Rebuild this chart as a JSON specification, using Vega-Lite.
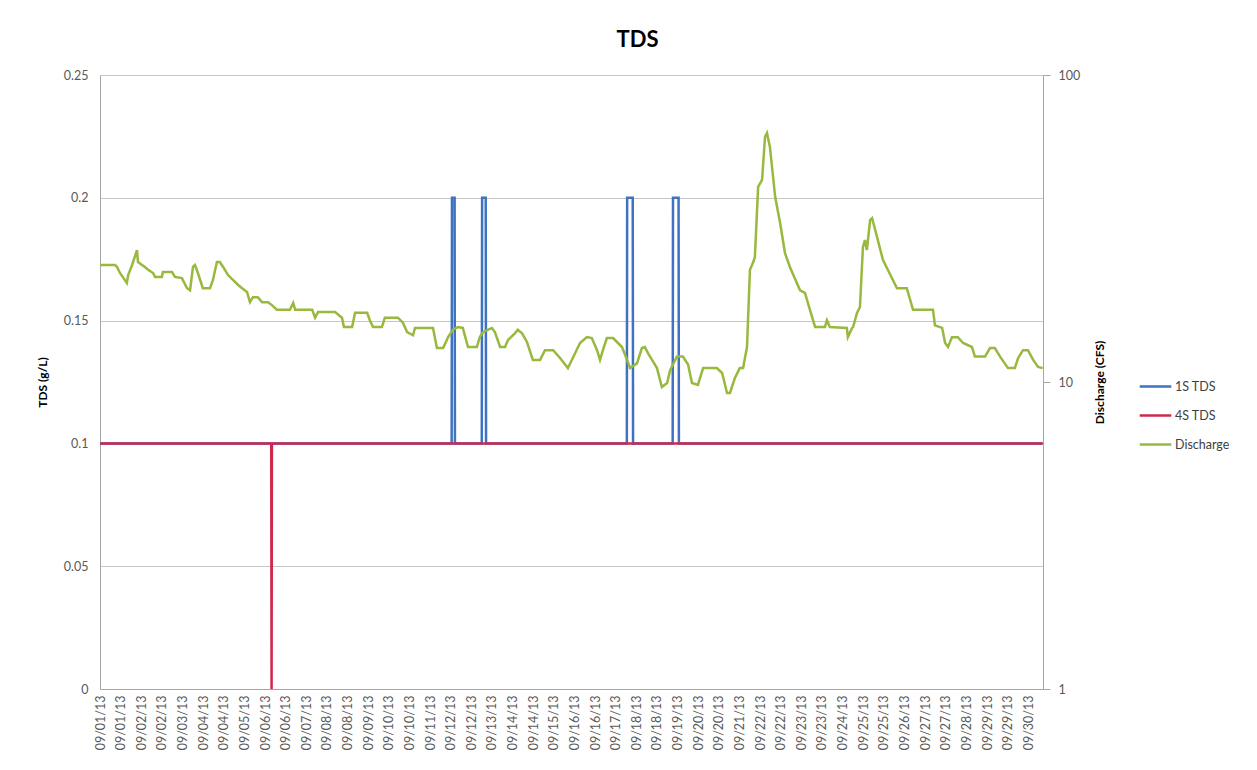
{
  "$schema": "https://vega.github.io/schema/vega-lite/v6.json",
  "width": 943,
  "height": 614,
  "autosize": {"type": "none"},
  "padding": {"left": 100, "top": 75, "right": 214, "bottom": 81},
  "background": "white",
  "title": {"text": "TDS", "fontSize": 22, "font": "Lato", "fontWeight": "bold", "color": "#000000", "anchor": "middle", "dx": 66, "offset": 0, "baseline": "alphabetic"},
  "config": {
    "view": {"stroke": null},
    "font": "Lato",
    "axis": {"labelFont": "Lato", "titleFont": "Lato", "labelColor": "#595959", "titleColor": "#000000", "domainColor": "#A6A6A6", "tickColor": "#A6A6A6", "gridColor": "#C6C6C6", "labelFontSize": 12.5},
    "axisX": {"labelOverlap": false}
  },
  "datasets": {
    "tds": [
      {"time": "2013-09-01T00:00", "series": "1S TDS", "tds": 0.1},
      {"time": "2013-09-12T04:30", "series": "1S TDS", "tds": 0.1},
      {"time": "2013-09-12T04:45", "series": "1S TDS", "tds": 0.2},
      {"time": "2013-09-12T06:45", "series": "1S TDS", "tds": 0.2},
      {"time": "2013-09-12T07:00", "series": "1S TDS", "tds": 0.1},
      {"time": "2013-09-13T03:30", "series": "1S TDS", "tds": 0.1},
      {"time": "2013-09-13T03:45", "series": "1S TDS", "tds": 0.2},
      {"time": "2013-09-13T06:30", "series": "1S TDS", "tds": 0.2},
      {"time": "2013-09-13T06:45", "series": "1S TDS", "tds": 0.1},
      {"time": "2013-09-17T18:15", "series": "1S TDS", "tds": 0.1},
      {"time": "2013-09-17T18:30", "series": "1S TDS", "tds": 0.2},
      {"time": "2013-09-17T22:45", "series": "1S TDS", "tds": 0.2},
      {"time": "2013-09-17T23:00", "series": "1S TDS", "tds": 0.1},
      {"time": "2013-09-19T05:15", "series": "1S TDS", "tds": 0.1},
      {"time": "2013-09-19T05:30", "series": "1S TDS", "tds": 0.2},
      {"time": "2013-09-19T09:45", "series": "1S TDS", "tds": 0.2},
      {"time": "2013-09-19T10:00", "series": "1S TDS", "tds": 0.1},
      {"time": "2013-09-30T23:45", "series": "1S TDS", "tds": 0.1},
      {"time": "2013-09-01T00:00", "series": "4S TDS", "tds": 0.1},
      {"time": "2013-09-06T10:45", "series": "4S TDS", "tds": 0.1},
      {"time": "2013-09-06T11:00", "series": "4S TDS", "tds": 0},
      {"time": "2013-09-06T11:15", "series": "4S TDS", "tds": 0.1},
      {"time": "2013-09-30T23:45", "series": "4S TDS", "tds": 0.1}
    ],
    "flow": [
      {"time": "2013-09-01T00:00", "series": "Discharge", "q": 24.05},
      {"time": "2013-09-01T11:30", "series": "Discharge", "q": 24.05},
      {"time": "2013-09-01T13:00", "series": "Discharge", "q": 23.7},
      {"time": "2013-09-01T15:15", "series": "Discharge", "q": 22.65},
      {"time": "2013-09-01T20:30", "series": "Discharge", "q": 21.0},
      {"time": "2013-09-01T21:30", "series": "Discharge", "q": 22.3},
      {"time": "2013-09-02T00:30", "series": "Discharge", "q": 24.05},
      {"time": "2013-09-02T04:15", "series": "Discharge", "q": 26.9},
      {"time": "2013-09-02T05:00", "series": "Discharge", "q": 24.6},
      {"time": "2013-09-02T10:15", "series": "Discharge", "q": 23.7},
      {"time": "2013-09-02T12:45", "series": "Discharge", "q": 23.2},
      {"time": "2013-09-02T16:30", "series": "Discharge", "q": 22.65},
      {"time": "2013-09-02T18:00", "series": "Discharge", "q": 22.0},
      {"time": "2013-09-02T23:15", "series": "Discharge", "q": 22.0},
      {"time": "2013-09-03T00:00", "series": "Discharge", "q": 22.8},
      {"time": "2013-09-03T07:00", "series": "Discharge", "q": 22.8},
      {"time": "2013-09-03T09:15", "series": "Discharge", "q": 22.0},
      {"time": "2013-09-03T14:30", "series": "Discharge", "q": 21.8},
      {"time": "2013-09-03T18:30", "series": "Discharge", "q": 20.2},
      {"time": "2013-09-03T20:45", "series": "Discharge", "q": 19.9},
      {"time": "2013-09-03T23:00", "series": "Discharge", "q": 23.7},
      {"time": "2013-09-04T00:30", "series": "Discharge", "q": 24.05},
      {"time": "2013-09-04T02:45", "series": "Discharge", "q": 22.65},
      {"time": "2013-09-04T06:30", "series": "Discharge", "q": 20.2},
      {"time": "2013-09-04T12:00", "series": "Discharge", "q": 20.2},
      {"time": "2013-09-04T14:15", "series": "Discharge", "q": 21.5},
      {"time": "2013-09-04T17:15", "series": "Discharge", "q": 24.6},
      {"time": "2013-09-04T19:30", "series": "Discharge", "q": 24.6},
      {"time": "2013-09-04T22:00", "series": "Discharge", "q": 23.7},
      {"time": "2013-09-05T01:45", "series": "Discharge", "q": 22.3},
      {"time": "2013-09-05T05:30", "series": "Discharge", "q": 21.5},
      {"time": "2013-09-05T09:30", "series": "Discharge", "q": 20.7},
      {"time": "2013-09-05T12:30", "series": "Discharge", "q": 20.2},
      {"time": "2013-09-05T16:15", "series": "Discharge", "q": 19.65},
      {"time": "2013-09-05T18:30", "series": "Discharge", "q": 18.2},
      {"time": "2013-09-05T20:45", "series": "Discharge", "q": 18.9},
      {"time": "2013-09-06T00:30", "series": "Discharge", "q": 18.9},
      {"time": "2013-09-06T03:45", "series": "Discharge", "q": 18.2},
      {"time": "2013-09-06T08:15", "series": "Discharge", "q": 18.2},
      {"time": "2013-09-06T11:15", "series": "Discharge", "q": 17.8},
      {"time": "2013-09-06T15:00", "series": "Discharge", "q": 17.2},
      {"time": "2013-09-07T01:00", "series": "Discharge", "q": 17.2},
      {"time": "2013-09-07T03:30", "series": "Discharge", "q": 18.1},
      {"time": "2013-09-07T05:00", "series": "Discharge", "q": 17.2},
      {"time": "2013-09-07T18:00", "series": "Discharge", "q": 17.2},
      {"time": "2013-09-07T20:15", "series": "Discharge", "q": 16.2},
      {"time": "2013-09-07T22:30", "series": "Discharge", "q": 16.9},
      {"time": "2013-09-08T11:30", "series": "Discharge", "q": 16.9},
      {"time": "2013-09-08T16:45", "series": "Discharge", "q": 16.2},
      {"time": "2013-09-08T18:15", "series": "Discharge", "q": 15.1},
      {"time": "2013-09-09T00:30", "series": "Discharge", "q": 15.1},
      {"time": "2013-09-09T02:45", "series": "Discharge", "q": 16.8},
      {"time": "2013-09-09T12:00", "series": "Discharge", "q": 16.8},
      {"time": "2013-09-09T14:00", "series": "Discharge", "q": 15.9},
      {"time": "2013-09-09T16:30", "series": "Discharge", "q": 15.1},
      {"time": "2013-09-09T23:15", "series": "Discharge", "q": 15.1},
      {"time": "2013-09-10T01:30", "series": "Discharge", "q": 16.2},
      {"time": "2013-09-10T11:30", "series": "Discharge", "q": 16.2},
      {"time": "2013-09-10T15:15", "series": "Discharge", "q": 15.6},
      {"time": "2013-09-10T18:30", "series": "Discharge", "q": 14.55},
      {"time": "2013-09-10T23:00", "series": "Discharge", "q": 14.2},
      {"time": "2013-09-11T00:30", "series": "Discharge", "q": 15.0},
      {"time": "2013-09-11T14:15", "series": "Discharge", "q": 15.0},
      {"time": "2013-09-11T17:15", "series": "Discharge", "q": 12.9},
      {"time": "2013-09-11T22:00", "series": "Discharge", "q": 12.9},
      {"time": "2013-09-12T01:45", "series": "Discharge", "q": 14.0},
      {"time": "2013-09-12T05:30", "series": "Discharge", "q": 14.8},
      {"time": "2013-09-12T09:15", "series": "Discharge", "q": 15.1},
      {"time": "2013-09-12T13:00", "series": "Discharge", "q": 15.0},
      {"time": "2013-09-12T17:00", "series": "Discharge", "q": 13.0},
      {"time": "2013-09-12T23:45", "series": "Discharge", "q": 13.0},
      {"time": "2013-09-13T02:00", "series": "Discharge", "q": 14.0},
      {"time": "2013-09-13T04:30", "series": "Discharge", "q": 14.55},
      {"time": "2013-09-13T11:15", "series": "Discharge", "q": 15.0},
      {"time": "2013-09-13T13:30", "series": "Discharge", "q": 14.55},
      {"time": "2013-09-13T17:30", "series": "Discharge", "q": 13.0},
      {"time": "2013-09-13T21:15", "series": "Discharge", "q": 13.0},
      {"time": "2013-09-13T23:30", "series": "Discharge", "q": 13.7},
      {"time": "2013-09-14T04:45", "series": "Discharge", "q": 14.4},
      {"time": "2013-09-14T07:00", "series": "Discharge", "q": 14.8},
      {"time": "2013-09-14T10:15", "series": "Discharge", "q": 14.4},
      {"time": "2013-09-14T14:00", "series": "Discharge", "q": 13.5},
      {"time": "2013-09-14T18:30", "series": "Discharge", "q": 11.8},
      {"time": "2013-09-15T00:00", "series": "Discharge", "q": 11.8},
      {"time": "2013-09-15T03:45", "series": "Discharge", "q": 12.7},
      {"time": "2013-09-15T10:00", "series": "Discharge", "q": 12.7},
      {"time": "2013-09-15T15:15", "series": "Discharge", "q": 11.97},
      {"time": "2013-09-15T21:15", "series": "Discharge", "q": 11.1},
      {"time": "2013-09-16T01:00", "series": "Discharge", "q": 11.97},
      {"time": "2013-09-16T06:30", "series": "Discharge", "q": 13.4},
      {"time": "2013-09-16T11:45", "series": "Discharge", "q": 14.0},
      {"time": "2013-09-16T15:30", "series": "Discharge", "q": 13.9},
      {"time": "2013-09-16T19:30", "series": "Discharge", "q": 12.7},
      {"time": "2013-09-16T21:45", "series": "Discharge", "q": 11.8},
      {"time": "2013-09-17T00:00", "series": "Discharge", "q": 12.7},
      {"time": "2013-09-17T03:00", "series": "Discharge", "q": 13.9},
      {"time": "2013-09-17T07:45", "series": "Discharge", "q": 13.9},
      {"time": "2013-09-17T10:45", "series": "Discharge", "q": 13.5},
      {"time": "2013-09-17T14:30", "series": "Discharge", "q": 13.0},
      {"time": "2013-09-17T18:30", "series": "Discharge", "q": 11.8},
      {"time": "2013-09-17T20:45", "series": "Discharge", "q": 11.1},
      {"time": "2013-09-18T02:00", "series": "Discharge", "q": 11.5},
      {"time": "2013-09-18T05:45", "series": "Discharge", "q": 12.9},
      {"time": "2013-09-18T08:00", "series": "Discharge", "q": 13.0},
      {"time": "2013-09-18T10:30", "series": "Discharge", "q": 12.4},
      {"time": "2013-09-18T13:30", "series": "Discharge", "q": 11.8},
      {"time": "2013-09-18T17:15", "series": "Discharge", "q": 11.1},
      {"time": "2013-09-18T21:00", "series": "Discharge", "q": 9.63},
      {"time": "2013-09-19T01:00", "series": "Discharge", "q": 9.93},
      {"time": "2013-09-19T03:15", "series": "Discharge", "q": 10.9},
      {"time": "2013-09-19T05:30", "series": "Discharge", "q": 11.4},
      {"time": "2013-09-19T08:30", "series": "Discharge", "q": 12.1},
      {"time": "2013-09-19T13:00", "series": "Discharge", "q": 12.1},
      {"time": "2013-09-19T17:00", "series": "Discharge", "q": 11.4},
      {"time": "2013-09-19T20:00", "series": "Discharge", "q": 9.93},
      {"time": "2013-09-20T00:30", "series": "Discharge", "q": 9.78},
      {"time": "2013-09-20T04:30", "series": "Discharge", "q": 11.1},
      {"time": "2013-09-20T15:00", "series": "Discharge", "q": 11.1},
      {"time": "2013-09-20T19:00", "series": "Discharge", "q": 10.7},
      {"time": "2013-09-20T22:45", "series": "Discharge", "q": 9.21},
      {"time": "2013-09-21T01:00", "series": "Discharge", "q": 9.21},
      {"time": "2013-09-21T04:45", "series": "Discharge", "q": 10.3},
      {"time": "2013-09-21T08:30", "series": "Discharge", "q": 11.1},
      {"time": "2013-09-21T11:00", "series": "Discharge", "q": 11.1},
      {"time": "2013-09-21T14:00", "series": "Discharge", "q": 13.0},
      {"time": "2013-09-21T16:15", "series": "Discharge", "q": 23.2},
      {"time": "2013-09-21T18:30", "series": "Discharge", "q": 24.4},
      {"time": "2013-09-21T20:00", "series": "Discharge", "q": 25.5},
      {"time": "2013-09-21T22:30", "series": "Discharge", "q": 43.2},
      {"time": "2013-09-22T01:30", "series": "Discharge", "q": 45.5},
      {"time": "2013-09-22T03:45", "series": "Discharge", "q": 62.8},
      {"time": "2013-09-22T05:15", "series": "Discharge", "q": 64.7},
      {"time": "2013-09-22T07:30", "series": "Discharge", "q": 58.3},
      {"time": "2013-09-22T11:30", "series": "Discharge", "q": 40.1},
      {"time": "2013-09-22T15:15", "series": "Discharge", "q": 33.0},
      {"time": "2013-09-22T19:00", "series": "Discharge", "q": 26.3},
      {"time": "2013-09-22T22:45", "series": "Discharge", "q": 23.7},
      {"time": "2013-09-23T06:30", "series": "Discharge", "q": 19.9},
      {"time": "2013-09-23T10:15", "series": "Discharge", "q": 19.5},
      {"time": "2013-09-23T14:00", "series": "Discharge", "q": 17.2},
      {"time": "2013-09-23T18:00", "series": "Discharge", "q": 15.1},
      {"time": "2013-09-24T01:30", "series": "Discharge", "q": 15.1},
      {"time": "2013-09-24T03:00", "series": "Discharge", "q": 15.9},
      {"time": "2013-09-24T05:15", "series": "Discharge", "q": 15.1},
      {"time": "2013-09-24T18:15", "series": "Discharge", "q": 15.0},
      {"time": "2013-09-24T19:00", "series": "Discharge", "q": 14.0},
      {"time": "2013-09-24T22:15", "series": "Discharge", "q": 15.0},
      {"time": "2013-09-24T23:00", "series": "Discharge", "q": 15.1},
      {"time": "2013-09-25T02:00", "series": "Discharge", "q": 16.8},
      {"time": "2013-09-25T04:15", "series": "Discharge", "q": 17.55},
      {"time": "2013-09-25T06:30", "series": "Discharge", "q": 27.5},
      {"time": "2013-09-25T08:00", "series": "Discharge", "q": 29.0},
      {"time": "2013-09-25T09:30", "series": "Discharge", "q": 26.9},
      {"time": "2013-09-25T12:00", "series": "Discharge", "q": 33.7},
      {"time": "2013-09-25T13:30", "series": "Discharge", "q": 34.2},
      {"time": "2013-09-25T17:15", "series": "Discharge", "q": 29.7},
      {"time": "2013-09-25T21:45", "series": "Discharge", "q": 25.0},
      {"time": "2013-09-26T01:30", "series": "Discharge", "q": 23.2},
      {"time": "2013-09-26T08:30", "series": "Discharge", "q": 20.2},
      {"time": "2013-09-26T16:00", "series": "Discharge", "q": 20.2},
      {"time": "2013-09-26T20:45", "series": "Discharge", "q": 17.2},
      {"time": "2013-09-27T12:00", "series": "Discharge", "q": 17.2},
      {"time": "2013-09-27T13:30", "series": "Discharge", "q": 15.3},
      {"time": "2013-09-27T19:00", "series": "Discharge", "q": 15.0},
      {"time": "2013-09-27T21:15", "series": "Discharge", "q": 13.4},
      {"time": "2013-09-27T23:30", "series": "Discharge", "q": 13.0},
      {"time": "2013-09-28T02:30", "series": "Discharge", "q": 14.0},
      {"time": "2013-09-28T07:00", "series": "Discharge", "q": 14.0},
      {"time": "2013-09-28T11:00", "series": "Discharge", "q": 13.4},
      {"time": "2013-09-28T17:45", "series": "Discharge", "q": 13.0},
      {"time": "2013-09-28T20:00", "series": "Discharge", "q": 12.1},
      {"time": "2013-09-29T03:45", "series": "Discharge", "q": 12.1},
      {"time": "2013-09-29T07:30", "series": "Discharge", "q": 12.9},
      {"time": "2013-09-29T11:15", "series": "Discharge", "q": 12.9},
      {"time": "2013-09-29T15:15", "series": "Discharge", "q": 12.1},
      {"time": "2013-09-29T21:15", "series": "Discharge", "q": 11.1},
      {"time": "2013-09-30T02:30", "series": "Discharge", "q": 11.1},
      {"time": "2013-09-30T05:00", "series": "Discharge", "q": 11.97},
      {"time": "2013-09-30T08:45", "series": "Discharge", "q": 12.7},
      {"time": "2013-09-30T12:30", "series": "Discharge", "q": 12.7},
      {"time": "2013-09-30T16:30", "series": "Discharge", "q": 11.8},
      {"time": "2013-09-30T20:15", "series": "Discharge", "q": 11.2},
      {"time": "2013-09-30T23:45", "series": "Discharge", "q": 11.1}
    ]
  },
  "encoding": {
    "x": {
      "field": "time", "type": "temporal",
      "scale": {"domain": [{"year": 2013, "month": 9, "date": 1, "hours": 0}, {"year": 2013, "month": 10, "date": 1, "hours": 0}]},
      "axis": {
        "title": null, "format": "%m/%d/%y", "labelAngle": 270, "labelFontSize": 12.5, "ticks": false, "grid": false, "labelPadding": 6, "labelOverlap": false, "labelFlush": false, "labelSeparation": 0,
        "values": [
          {"year": 2013, "month": 9, "date": 1, "hours": 0, "minutes": 0},
          {"year": 2013, "month": 9, "date": 1, "hours": 15, "minutes": 45},
          {"year": 2013, "month": 9, "date": 2, "hours": 7, "minutes": 30},
          {"year": 2013, "month": 9, "date": 2, "hours": 23, "minutes": 15},
          {"year": 2013, "month": 9, "date": 3, "hours": 15, "minutes": 0},
          {"year": 2013, "month": 9, "date": 4, "hours": 6, "minutes": 45},
          {"year": 2013, "month": 9, "date": 4, "hours": 22, "minutes": 30},
          {"year": 2013, "month": 9, "date": 5, "hours": 14, "minutes": 15},
          {"year": 2013, "month": 9, "date": 6, "hours": 6, "minutes": 0},
          {"year": 2013, "month": 9, "date": 6, "hours": 21, "minutes": 45},
          {"year": 2013, "month": 9, "date": 7, "hours": 13, "minutes": 30},
          {"year": 2013, "month": 9, "date": 8, "hours": 5, "minutes": 15},
          {"year": 2013, "month": 9, "date": 8, "hours": 21, "minutes": 0},
          {"year": 2013, "month": 9, "date": 9, "hours": 12, "minutes": 45},
          {"year": 2013, "month": 9, "date": 10, "hours": 4, "minutes": 30},
          {"year": 2013, "month": 9, "date": 10, "hours": 20, "minutes": 15},
          {"year": 2013, "month": 9, "date": 11, "hours": 12, "minutes": 0},
          {"year": 2013, "month": 9, "date": 12, "hours": 3, "minutes": 45},
          {"year": 2013, "month": 9, "date": 12, "hours": 19, "minutes": 30},
          {"year": 2013, "month": 9, "date": 13, "hours": 11, "minutes": 15},
          {"year": 2013, "month": 9, "date": 14, "hours": 3, "minutes": 0},
          {"year": 2013, "month": 9, "date": 14, "hours": 18, "minutes": 45},
          {"year": 2013, "month": 9, "date": 15, "hours": 10, "minutes": 30},
          {"year": 2013, "month": 9, "date": 16, "hours": 2, "minutes": 15},
          {"year": 2013, "month": 9, "date": 16, "hours": 18, "minutes": 0},
          {"year": 2013, "month": 9, "date": 17, "hours": 9, "minutes": 45},
          {"year": 2013, "month": 9, "date": 18, "hours": 1, "minutes": 30},
          {"year": 2013, "month": 9, "date": 18, "hours": 17, "minutes": 15},
          {"year": 2013, "month": 9, "date": 19, "hours": 9, "minutes": 0},
          {"year": 2013, "month": 9, "date": 20, "hours": 0, "minutes": 45},
          {"year": 2013, "month": 9, "date": 20, "hours": 16, "minutes": 30},
          {"year": 2013, "month": 9, "date": 21, "hours": 8, "minutes": 15},
          {"year": 2013, "month": 9, "date": 22, "hours": 0, "minutes": 0},
          {"year": 2013, "month": 9, "date": 22, "hours": 15, "minutes": 45},
          {"year": 2013, "month": 9, "date": 23, "hours": 7, "minutes": 30},
          {"year": 2013, "month": 9, "date": 23, "hours": 23, "minutes": 15},
          {"year": 2013, "month": 9, "date": 24, "hours": 15, "minutes": 0},
          {"year": 2013, "month": 9, "date": 25, "hours": 6, "minutes": 45},
          {"year": 2013, "month": 9, "date": 25, "hours": 22, "minutes": 30},
          {"year": 2013, "month": 9, "date": 26, "hours": 14, "minutes": 15},
          {"year": 2013, "month": 9, "date": 27, "hours": 6, "minutes": 0},
          {"year": 2013, "month": 9, "date": 27, "hours": 21, "minutes": 45},
          {"year": 2013, "month": 9, "date": 28, "hours": 13, "minutes": 30},
          {"year": 2013, "month": 9, "date": 29, "hours": 5, "minutes": 15},
          {"year": 2013, "month": 9, "date": 29, "hours": 21, "minutes": 0},
          {"year": 2013, "month": 9, "date": 30, "hours": 12, "minutes": 45}
        ]
      }
    },
    "color": {
      "field": "series", "type": "nominal",
      "scale": {"domain": ["1S TDS", "4S TDS", "Discharge"], "range": ["#3F72C0", "#D0284A", "#98B83E"]},
      "legend": {"title": null, "orient": "none", "legendX": 1038, "legendY": 294, "symbolType": "stroke", "symbolSize": 1000, "symbolStrokeWidth": 2.5, "labelFontSize": 12.5, "labelColor": "#404040", "labelFont": "Lato", "rowPadding": 5, "labelOffset": 2, "padding": 0}
    }
  },
  "layer": [
    {
      "data": {"name": "tds"},
      "mark": {"type": "line", "strokeWidth": 2.5},
      "encoding": {
        "y": {
          "field": "tds", "type": "quantitative",
          "scale": {"domain": [0, 0.25]},
          "axis": {"title": "TDS (g/L)", "titleFontSize": 12, "titleFontWeight": "bold", "titlePadding": 14, "values": [0, 0.05, 0.1, 0.15, 0.2, 0.25], "format": "~g", "ticks": false, "labelPadding": 12, "grid": true}
        }
      }
    },
    {
      "data": {"name": "flow"},
      "mark": {"type": "line", "strokeWidth": 2.5},
      "encoding": {
        "y": {
          "field": "q", "type": "quantitative",
          "scale": {"type": "log", "domain": [1, 100]},
          "axis": {"orient": "right", "title": "Discharge (CFS)", "titleFontSize": 12, "titleFontWeight": "bold", "titleAngle": 270, "titlePadding": 27, "values": [1, 10, 100], "format": "~g", "tickSize": 7, "labelPadding": 8, "grid": false}
        }
      }
    }
  ],
  "resolve": {"scale": {"y": "independent"}}
}
